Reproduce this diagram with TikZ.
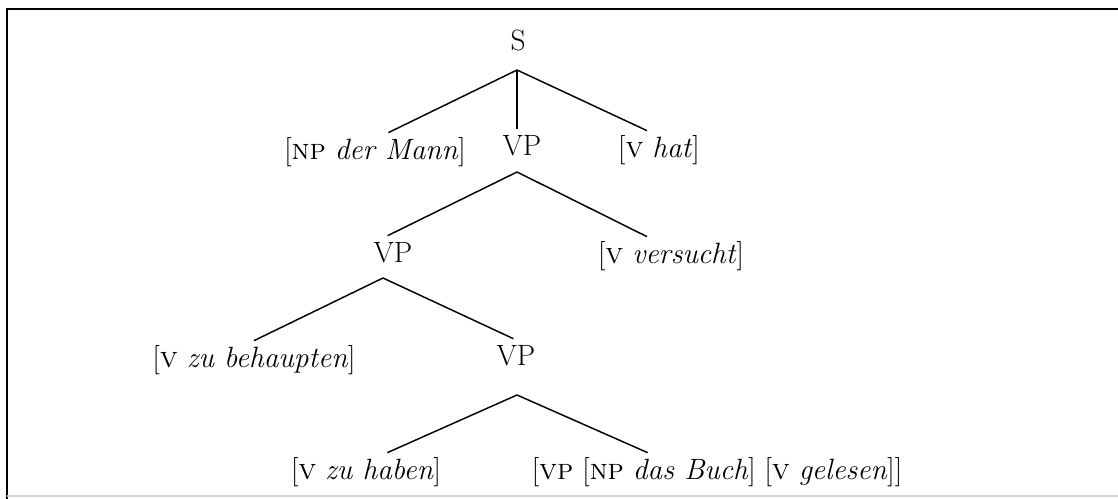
\documentclass[tikz,border=0pt]{standalone}
\usetikzlibrary{positioning}

\begin{document}
\begin{tikzpicture}[
    x=0.75pt, y=-0.75pt,
    cat/.style={inner sep=0pt, outer sep=3pt, text height=17pt, text depth=6pt, font=\fontsize{22}{26}\selectfont},
    branch/.style={line width=1.1pt},
    frame/.style={line width=1.6pt}
  ]
    \useasboundingbox (0,0) rectangle (1118,499);
    \draw[frame] (1118,9) -- (7,9) -- (7,499);
    \draw[gray!35, line width=0.8pt] (7,496) -- (1118,496);

    \node[cat] (s)    at (518,43)  {S};
    \node[cat] (np)   at (375,152) {[\textsc{np} \textit{der Mann}]};
    \node[cat] (vp1)  at (522,148) {VP};
    \node[cat] (hat)  at (659,150) {[\textsc{v} \textit{hat}]};
    \node[cat] (vp2)  at (393,255) {VP};
    \node[cat] (vers) at (671,256) {[\textsc{v} \textit{versucht}]};
    \node[cat] (beh)  at (254,360) {[\textsc{v} \textit{zu behaupten}]};
    \node[cat] (vp3)  at (516,358) {VP};
    \node[cat] (hab)  at (366,472) {[\textsc{v} \textit{zu haben}]};
    \node[cat] (buch) at (717,472) {[\textsc{vp} [\textsc{np} \textit{das Buch}] [\textsc{v} \textit{gelesen}]]};

    \coordinate (s-fork)   at (517,70);
    \coordinate (vp1-fork) at (517,172);
    \coordinate (vp2-fork) at (383,278);
    \coordinate (vp3-fork) at (517,395);

    \draw[branch] (s-fork) -- ([xshift=10pt]np.north);
    \draw[branch] (s-fork) -- (s-fork |- vp1.north);
    \draw[branch] (s-fork) -- ([xshift=-9pt]hat.north);
    \draw[branch] (vp1-fork) -- ([xshift=-4pt]vp2.north);
    \draw[branch] (vp1-fork) -- ([xshift=-18pt]vers.north);
    \draw[branch] (vp2-fork) -- (beh.north);
    \draw[branch] (vp2-fork) -- ([xshift=-2pt]vp3.north);
    \draw[branch] (vp3-fork) -- ([xshift=16pt]hab.north);
    \draw[branch] (vp3-fork) -- ([xshift=-52pt]buch.north);
  \end{tikzpicture}
\end{document}
